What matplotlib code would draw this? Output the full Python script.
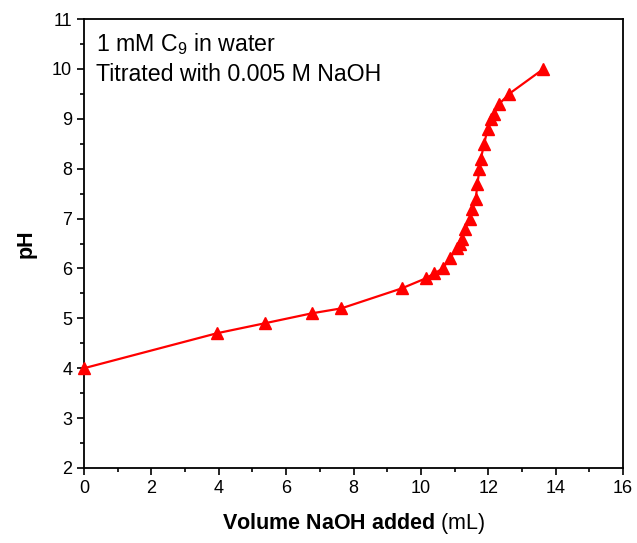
import matplotlib
matplotlib.use("Agg")
import matplotlib.pyplot as plt
from matplotlib.ticker import MultipleLocator

plt.rcParams['font.family'] = ['Liberation Sans', 'DejaVu Sans']
plt.rcParams['mathtext.fontset'] = 'custom'
plt.rcParams['mathtext.rm'] = 'Liberation Sans'
plt.rcParams['mathtext.it'] = 'Liberation Sans:italic'
plt.rcParams['mathtext.bf'] = 'Liberation Sans:bold'

volume_ml = [0.0, 3.94, 5.36, 6.76, 7.64, 9.43, 10.14, 10.40, 10.65, 10.85,
             11.07, 11.15, 11.22, 11.32, 11.45, 11.53, 11.63, 11.68, 11.74,
             11.78, 11.88, 11.98, 12.09, 12.17, 12.33, 12.62, 13.64]
ph = [4.0, 4.7, 4.9, 5.1, 5.2, 5.6, 5.8, 5.9, 6.0, 6.2,
      6.4, 6.5, 6.6, 6.8, 7.0, 7.2, 7.4, 7.7, 8.0,
      8.2, 8.5, 8.8, 9.0, 9.1, 9.3, 9.5, 10.0]

fig = plt.figure(figsize=(6.37, 5.43), dpi=100)
ax = fig.add_axes([84/637, 1-468/543, (623-84)/637, (468-19)/543])

ax.plot(volume_ml, ph, color='#ff0000', lw=1.6, marker='^', ms=9,
        markerfacecolor='#ff0000', markeredgecolor='#ff0000', clip_on=False, zorder=3)

ax.set_xlim(0, 16)
ax.set_ylim(2, 11)
ax.xaxis.set_major_locator(MultipleLocator(2))
ax.xaxis.set_minor_locator(MultipleLocator(1))
ax.yaxis.set_major_locator(MultipleLocator(1))
ax.yaxis.set_minor_locator(MultipleLocator(0.5))
ax.tick_params(which='major', direction='out', length=5, width=1.2, labelsize=13, colors='black')
ax.tick_params(which='minor', direction='out', length=3, width=1.2)
for s in ax.spines.values():
    s.set_linewidth(1.3)

ax.set_xlabel(r'$\mathbf{Volume\ NaOH\ added}$ (mL)', fontsize=15.5, labelpad=10)
ax.set_ylabel('pH', fontsize=15.5, fontweight='bold', labelpad=11)

ax.text(0.022, 0.972, r'1 mM C$_9$ in water', transform=ax.transAxes, fontsize=16.7,
        va='top', ha='left')
ax.text(0.022, 0.902, 'Titrated with 0.005 M NaOH', transform=ax.transAxes, fontsize=16.7,
        va='top', ha='left')

fig.savefig('out.png', dpi=100)
